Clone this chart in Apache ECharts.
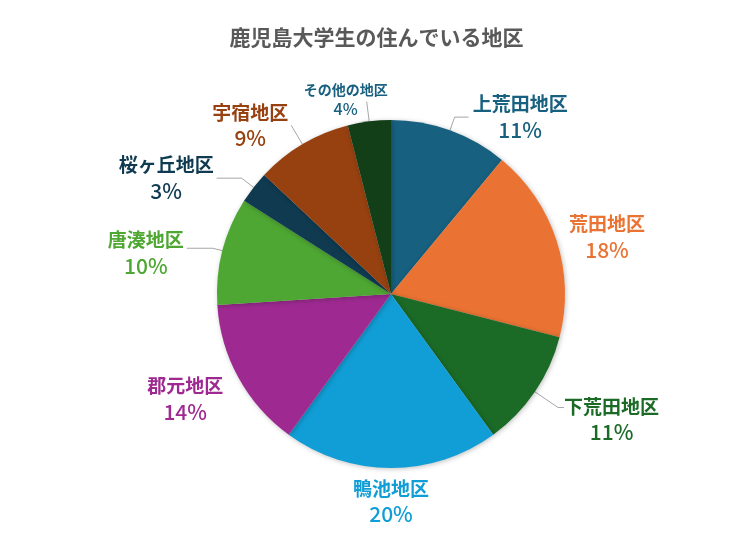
<!DOCTYPE html>
<html>
<head>
<meta charset="utf-8">
<script src="https://cdn.jsdelivr.net/npm/echarts@6/dist/echarts.min.js"></script>
<style>
  html, body { margin: 0; padding: 0; background: #fff; }
  #chart { width: 753px; height: 558px; }
</style>
</head>
<body>
<div id="chart"></div>
<script>
var chartTitle = '鹿児島大学生の住んでいる地区';
var districts = ['上荒田地区', '荒田地区', '下荒田地区', '鴨池地区', '郡元地区', '唐湊地区', '桜ヶ丘地区', '宇宿地区', 'その他の地区'];
var shares = [11, 18, 11, 20, 14, 10, 3, 9, 4];
var sliceColors = ['#17607f', '#ea7333', '#1b6b27', '#119ed6', '#9e2a91', '#4ea732', '#0f3a50', '#974110', '#123f18'];
var labelColors = ['#17607f', '#ea7333', '#1b6b27', '#119ed6', '#9e2a91', '#4ea732', '#0f3a50', '#974110', '#17607f'];

var fontFamily = '"Noto Sans CJK JP", "Noto Sans", sans-serif';

// leader line settings per label (style only)
var lineStyleByName = {
    '上荒田地区': { show: true, length: 14, length2: 14 },
    '荒田地区': { show: false, length: 10, length2: 0 },
    '下荒田地区': { show: true, length: 28, length2: 6 },
    '鴨池地区': { show: false, length: 34, length2: 0 },
    '郡元地区': { show: false, length: 30, length2: 0 },
    '唐湊地区': { show: true, length: 10, length2: 26 },
    '桜ヶ丘地区': { show: true, length: 15, length2: 25 },
    '宇宿地区': { show: true, length: 22, length2: 0 },
    'その他の地区': { show: true, length: 20, length2: 0 }
};
var centeredLabels = { '鴨池地区': true };
// small label nudges (text only, leader lines keep their own ends)
var labelNudge = {
    '上荒田地区': { dx: 1, dy: 0 },
    '下荒田地区': { dx: -3, dy: 12 },
    '郡元地区': { dx: 14, dy: 7 },
    '唐湊地区': { dx: 0, dy: 5 },
    'その他の地区': { dx: 24, dy: -2 }
};

var pieData = districts.map(function (name, i) {
    var small = (name === 'その他の地区');
    return {
        name: name,
        value: shares[i],
        itemStyle: { color: sliceColors[i] },
        labelLine: lineStyleByName[name],
        label: {
            color: labelColors[i],
            distanceToLabelLine: centeredLabels[name] ? 0 : 3,
            rich: {
                n: { fontSize: small ? 14 : 19, fontWeight: 'bold', align: 'center', lineHeight: small ? 18 : 25, fontFamily: fontFamily },
                p: { fontSize: small ? 16 : 21, fontWeight: 500, align: 'center', lineHeight: small ? 20 : 26, fontFamily: fontFamily }
            }
        }
    };
});

var myChart = echarts.init(document.getElementById('chart'));
var option = {
    animation: false,
    title: {
        text: chartTitle,
        left: 'center',
        top: 22,
        textStyle: { color: '#595959', fontSize: 21, fontWeight: 'bold', fontFamily: fontFamily }
    },
    series: [{
        type: 'pie',
        center: [391, 294],
        radius: 174,
        startAngle: 90,
        clockwise: true,
        avoidLabelOverlap: false,
        data: pieData,
        itemStyle: {
            shadowBlur: 5,
            shadowColor: 'rgba(0,0,0,0.25)',
            shadowOffsetX: 1,
            shadowOffsetY: 1
        },
        label: {
            position: 'outside',
            formatter: function (p) { return '{n|' + p.name + '}\n{p|' + p.value + '%}'; }
        },
        labelLine: {
            lineStyle: { color: '#a6a6a6', width: 1 }
        },
        labelLayout: function (params) {
            var name = districts[params.dataIndex];
            var res = {};
            if (centeredLabels[name]) {
                res.align = 'center';
            }
            if (labelNudge[name]) {
                res.dx = labelNudge[name].dx;
                res.dy = labelNudge[name].dy;
            }
            return res;
        },
        emphasis: { disabled: true }
    }]
};
myChart.setOption(option);
</script>
</body>
</html>
